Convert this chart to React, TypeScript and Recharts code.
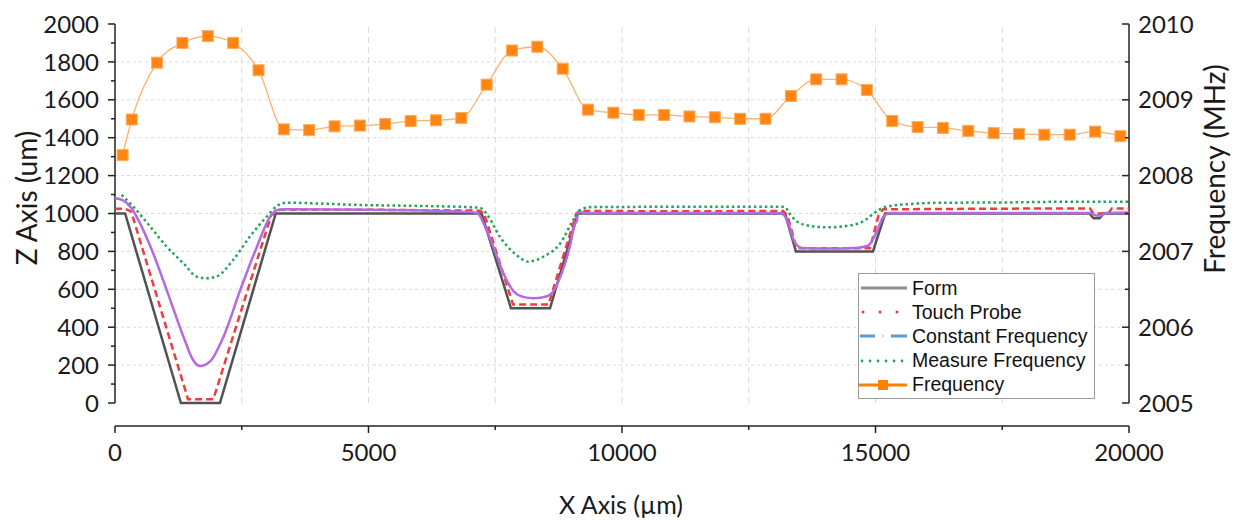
import React from 'react';
import { LineChart, Line, XAxis, YAxis, ReferenceLine, Legend, Label } from 'recharts';

// Form profile (um)
const formX = [0, 200, 1300, 2070, 3170, 7230, 7810, 8580, 9130, 13215, 13430, 14950, 15190, 19220, 19300, 19420, 19500, 20000];
const formZ = [1000, 1000, 0, 0, 1000, 1000, 500, 500, 1000, 1000, 800, 800, 1000, 1000, 975, 975, 1000, 1000];

// Touch probe
const probeX = [0, 200, 320, 1440, 1940, 3080, 3250, 5000, 7200, 7280, 7850, 8550, 9100, 9200, 11000, 13180, 13260, 13445, 14890, 15060, 15150, 17000, 19230, 19300, 19590, 19660, 20000];
const probeZ = [1025, 1025, 1010, 20, 20, 990, 1020, 1020, 1015, 1000, 520, 520, 1000, 1013, 1012, 1013, 990, 816, 816, 990, 1022, 1025, 1027, 1000, 1000, 1027, 1027];

// Constant frequency
const constX = [0, 150, 300, 700, 1020, 1350, 1540, 1680, 1870, 2140, 2470, 2800, 3060, 3200, 3400, 5000, 7000, 7150, 7300, 7460, 7660, 7860, 8050, 8250, 8450, 8600, 8810, 8970, 9080, 9110, 9130, 9250, 11000, 13000, 13150, 13280, 13400, 13550, 14000, 14600, 14850, 15000, 15150, 15280, 17000, 19230, 19350, 19450, 19560, 20000];
const constZ = [1080, 1070, 1036, 825, 596, 350, 227, 195, 218, 350, 596, 825, 983, 1018, 1022, 1020, 1008, 1002, 930, 825, 684, 590, 560, 553, 558, 575, 684, 825, 950, 960, 1010, 1003, 1003, 1003, 1000, 950, 850, 818, 815, 818, 830, 890, 980, 1003, 1003, 1002, 990, 990, 1002, 1005];

// Measure frequency
const measureX = [130, 360, 690, 1020, 1350, 1610, 1810, 2000, 2330, 2660, 2990, 3190, 3390, 4300, 4830, 6000, 7000, 7200, 7350, 7590, 7920, 8150, 8450, 8780, 9040, 9170, 9400, 10500, 12000, 13200, 13330, 13450, 13700, 14040, 14560, 14800, 14960, 15220, 15680, 16400, 17500, 18700, 20000];
const measureZ = [1098, 1036, 932, 825, 737, 667, 658, 667, 755, 878, 983, 1039, 1057, 1050, 1045, 1040, 1033, 1030, 990, 878, 781, 746, 772, 842, 966, 1018, 1034, 1035, 1035, 1036, 990, 958, 935, 927, 940, 965, 1000, 1036, 1050, 1057, 1058, 1062, 1062];

// Frequency (MHz), right axis
const freqX = [150, 330, 830, 1330, 1830, 2330, 2830, 3330, 3830, 4330, 4830, 5330, 5830, 6330, 6830, 7330, 7830, 8330, 8830, 9330, 9830, 10330, 10830, 11330, 11830, 12330, 12830, 13330, 13830, 14330, 14830, 15330, 15830, 16330, 16830, 17330, 17830, 18330, 18830, 19330, 19830];
const freqMHz = [2008.27, 2008.74, 2009.49, 2009.75, 2009.84, 2009.75, 2009.39, 2008.61, 2008.60, 2008.65, 2008.66, 2008.68, 2008.72, 2008.73, 2008.76, 2009.20, 2009.65, 2009.70, 2009.41, 2008.87, 2008.83, 2008.80, 2008.80, 2008.78, 2008.77, 2008.75, 2008.75, 2009.05, 2009.27, 2009.27, 2009.13, 2008.72, 2008.64, 2008.63, 2008.59, 2008.56, 2008.55, 2008.54, 2008.54, 2008.58, 2008.52];

const xTicks = [0, 2500, 5000, 7500, 10000, 12500, 15000, 17500, 20000];
const zTicks = Array.from({ length: 21 }, (_, i) => i * 100);
const fTicks = [2005, 2005.5, 2006, 2006.5, 2007, 2007.5, 2008, 2008.5, 2009, 2009.5, 2010];
const zGrid = [200, 400, 600, 800, 1000, 1200, 1400, 1600, 1800];
const xGrid = [2500, 5000, 7500, 10000, 12500, 15000, 17500];

// layout: x axis sits below the zero line
const PLOT_TOP = 24;
const ZERO_Y = 403;
const AXIS_Y = 426;
const zMin = (-2000 * (AXIS_Y - ZERO_Y)) / (ZERO_Y - PLOT_TOP);
const fMin = 2005 + zMin / 400;

const pts = (xs: number[], ys: number[], key: string) => xs.map((x, i) => ({ x, [key]: ys[i] }));

const formData = pts(formX, formZ, 'z');
const probeData = pts(probeX, probeZ, 'z');
const constData = pts(constX, constZ, 'z');
const measureData = pts(measureX, measureZ, 'z');
const freqData = pts(freqX, freqMHz, 'f');

const TICK_FONT = { fontFamily: 'Lato', fontSize: 24, fill: '#1a1a1a' };
const AXIS = '#222';
const GRID = '#dadada';

const LeftTick = (props: any) => {
  const { x, y, payload } = props;
  const major = payload.value % 200 === 0;
  return (
    <g>
      <line x1={x - (major ? 7 : 4)} x2={x} y1={y} y2={y} stroke={AXIS} strokeWidth={1.5} />
      {major && (
        <text x={x - 16} y={y} dy="0.36em" textAnchor="end" {...TICK_FONT}>
          {payload.value}
        </text>
      )}
    </g>
  );
};

const RightTick = (props: any) => {
  const { x, y, payload } = props;
  const major = Number.isInteger(payload.value);
  return (
    <g>
      <line x1={x - (major ? 7 : 4)} x2={x} y1={y} y2={y} stroke={AXIS} strokeWidth={1.5} />
      {major && (
        <text x={x + 9} y={y} dy="0.36em" textAnchor="start" {...TICK_FONT}>
          {payload.value}
        </text>
      )}
    </g>
  );
};

const BottomTick = (props: any) => {
  const { x, y, payload } = props;
  const major = payload.value % 5000 === 0;
  return (
    <g>
      <line x1={x} x2={x} y1={y} y2={y + (major ? 7 : 4)} stroke={AXIS} strokeWidth={1.5} />
      {major && (
        <text x={x} y={y + 26} dy="0.36em" textAnchor="middle" {...TICK_FONT}>
          {payload.value}
        </text>
      )}
    </g>
  );
};

const SquareDot = (props: any) => {
  const { cx, cy, index } = props;
  return <rect key={index} x={cx - 5.5} y={cy - 5.5} width={11} height={11} fill="#ff8412" stroke="#ffad5c" strokeWidth={1} />;
};

const legendRows = [
  { name: 'Form', kind: 'form' },
  { name: 'Touch Probe', kind: 'probe' },
  { name: 'Constant Frequency', kind: 'const' },
  { name: 'Measure Frequency', kind: 'measure' },
  { name: 'Frequency', kind: 'freq' },
];

const LegendSymbol = ({ kind }: { kind: string }) => (
  <svg width={50} height={24} style={{ display: 'block', flex: 'none' }}>
    {kind === 'form' && <line x1={2} x2={48} y1={12} y2={12} stroke="#8e8e8e" strokeWidth={3} />}
    {kind === 'probe' && [4, 21, 38].map((cx) => <circle key={cx} cx={cx} cy={12} r={1.5} fill="#ee3b3b" />)}
    {kind === 'const' && (
      <g>
        <line x1={1} x2={16} y1={12} y2={12} stroke="#5b9bd5" strokeWidth={3} />
        <circle cx={24} cy={12} r={1} fill="#a9c8ea" />
        <line x1={32} x2={48} y1={12} y2={12} stroke="#5b9bd5" strokeWidth={3} />
      </g>
    )}
    {kind === 'measure' && [3, 11, 19, 27, 35, 43].map((cx) => <circle key={cx} cx={cx} cy={12} r={1.4} fill="#28a35a" />)}
    {kind === 'freq' && (
      <g>
        <line x1={0} x2={48} y1={12} y2={12} stroke="#ff8000" strokeWidth={3} />
        <rect x={19} y={7} width={10} height={10} fill="#ff8000" />
      </g>
    )}
  </svg>
);

const LegendBox = () => (
  <div
    style={{
      width: 237,
      height: 126,
      boxSizing: 'border-box',
      border: '1px solid #9a9a9a',
      background: '#fff',
      paddingTop: 2,
    }}
  >
    {legendRows.map((r) => (
      <div key={r.name} style={{ display: 'flex', alignItems: 'center', height: 24.2 }}>
        <LegendSymbol kind={r.kind} />
        <span style={{ marginLeft: 3, fontFamily: '"Liberation Sans", Arial, sans-serif', fontSize: 19.5, color: '#111', whiteSpace: 'nowrap' }}>
          {r.name}
        </span>
      </div>
    ))}
  </div>
);

const titleFont = { fontFamily: 'Lato', fill: '#1a1a1a' };

export default function App() {
  return (
    <div style={{ position: 'absolute', left: 0, top: 0, width: 1235, height: 520, background: '#fff' }}>
      <LineChart width={1235} height={520} margin={{ top: PLOT_TOP, right: 0, bottom: 0, left: 0 }}>
        <XAxis
          type="number"
          dataKey="x"
          domain={[0, 20000]}
          ticks={xTicks}
          interval={0}
          tickSize={0}
          tickMargin={0}
          tickLine={false}
          tick={<BottomTick />}
          height={520 - AXIS_Y}
          axisLine={{ stroke: AXIS, strokeWidth: 1.5 }}
        >
          <Label
            content={() => (
              <text x={621} y={505} dy="0.35em" textAnchor="middle" fontSize={25} {...titleFont}>
                X Axis (µm)
              </text>
            )}
          />
        </XAxis>
        <YAxis
          yAxisId="z"
          type="number"
          domain={[zMin, 2000]}
          allowDataOverflow
          ticks={zTicks}
          interval={0}
          width={115}
          tickSize={0}
          tickMargin={0}
          tickLine={false}
          axisLine={false}
          tick={<LeftTick />}
        >
          <Label
            content={() => (
              <text x={27} y={198} dy="0.35em" textAnchor="middle" fontSize={28} transform="rotate(-90 27 198)" {...titleFont}>
                Z Axis (um)
              </text>
            )}
          />
        </YAxis>
        <YAxis
          yAxisId="f"
          orientation="right"
          type="number"
          domain={[fMin, 2010]}
          allowDataOverflow
          ticks={fTicks}
          interval={0}
          width={106}
          tickSize={0}
          tickMargin={0}
          tickLine={false}
          axisLine={false}
          tick={<RightTick />}
        >
          <Label
            content={() => (
              <text x={1215} y={169} dy="0.35em" textAnchor="middle" fontSize={28} transform="rotate(-90 1215 169)" {...titleFont}>
                Frequency (MHz)
              </text>
            )}
          />
        </YAxis>

        {zGrid.map((v) => (
          <ReferenceLine key={'h' + v} yAxisId="z" y={v} stroke={GRID} strokeDasharray="3 3" />
        ))}
        {xGrid.map((v) => (
          <ReferenceLine
            key={'v' + v}
            yAxisId="z"
            segment={[{ x: v, y: 0 }, { x: v, y: 2000 }]}
            stroke={GRID}
            strokeDasharray="6 4"
          />
        ))}
        <ReferenceLine yAxisId="z" segment={[{ x: 0, y: 0 }, { x: 0, y: 2000 }]} stroke={AXIS} strokeWidth={1.5} ifOverflow="visible" />
        <ReferenceLine yAxisId="z" segment={[{ x: 20000, y: 0 }, { x: 20000, y: 2000 }]} stroke={AXIS} strokeWidth={1.5} ifOverflow="visible" />

        <Line yAxisId="z" data={formData} dataKey="z" type="linear" stroke="#525252" strokeWidth={2.5} dot={false} isAnimationActive={false} name="Form" />
        <Line yAxisId="z" data={probeData} dataKey="z" type="linear" stroke="#f03c3c" strokeWidth={2.5} strokeDasharray="7 4" dot={false} isAnimationActive={false} name="Touch Probe" />
        <Line yAxisId="z" data={constData} dataKey="z" type="monotone" stroke="#b36ae2" strokeWidth={2.5} dot={false} isAnimationActive={false} name="Constant Frequency" />
        <Line yAxisId="z" data={measureData} dataKey="z" type="monotone" stroke="#23a455" strokeWidth={2.5} strokeDasharray="2.5 3" dot={false} isAnimationActive={false} name="Measure Frequency" />
        <Line yAxisId="f" data={freqData} dataKey="f" type="monotone" stroke="#fbb26c" strokeWidth={1.3} dot={<SquareDot />} isAnimationActive={false} name="Frequency" />

        <Legend
          layout="vertical"
          align="center"
          verticalAlign="middle"
          content={<LegendBox />}
          wrapperStyle={{ left: 858, top: 273, width: 237, height: 126 }}
        />
      </LineChart>
    </div>
  );
}
